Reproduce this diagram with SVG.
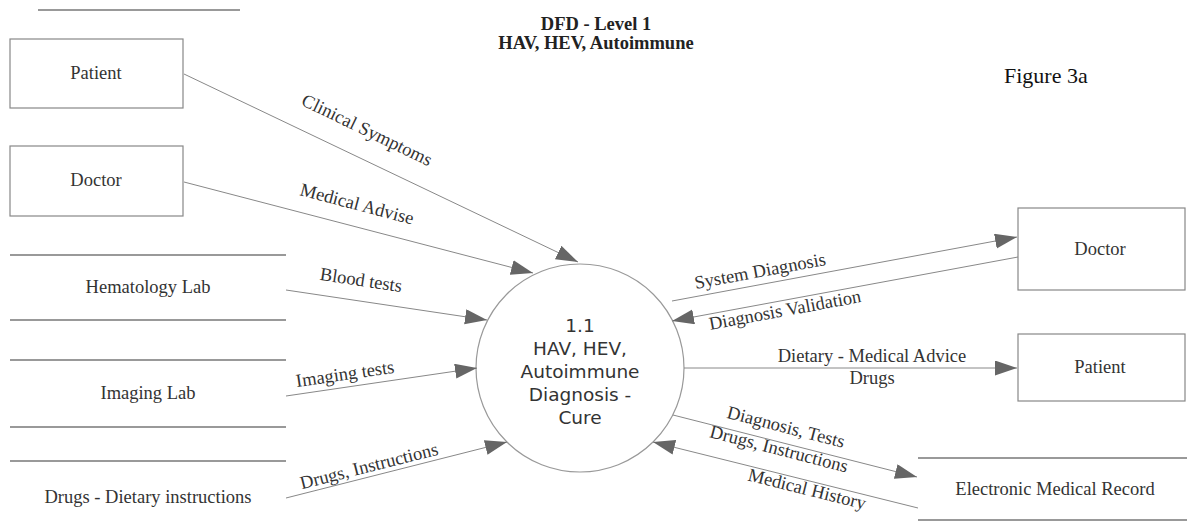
<svg xmlns="http://www.w3.org/2000/svg" width="1187" height="530" viewBox="0 0 1187 530">
<style>
.box{fill:#fff;stroke:#888;stroke-width:1.2}
.store{stroke:#777;stroke-width:1.5}
.lbl{font-family:"Liberation Serif",serif;font-size:18.5px;fill:#333;text-anchor:middle;dominant-baseline:central}
.flow{font-family:"Liberation Serif",serif;font-size:18.5px;fill:#333;text-anchor:middle;dominant-baseline:central}
.conn line{stroke:#888;stroke-width:1;marker-end:url(#ah)}
.title{font-family:"Liberation Serif",serif;font-size:18.5px;font-weight:bold;fill:#222;text-anchor:middle}
.proc{font-family:"DejaVu Sans",sans-serif;font-size:18.5px;fill:#333;text-anchor:middle}
</style>
<defs>
<marker id="ah" markerUnits="userSpaceOnUse" markerWidth="24" markerHeight="16" refX="22" refY="7.5" orient="auto">
<path d="M0,0 L22,7.5 L0,15 z" fill="#666"/>
</marker>
</defs>
<rect width="1187" height="530" fill="#fff"/>
<line x1="38" y1="10" x2="240" y2="10" class="store"/>
<text class="title" x="596" y="30">DFD - Level 1</text>
<text class="title" x="596" y="49">HAV, HEV, Autoimmune</text>
<text x="1004" y="83" style="font-family:'Liberation Serif',serif;font-size:22px;fill:#111">Figure 3a</text>

<g id="patient-left"><rect class="box" x="10" y="39" width="173" height="69"/><text class="lbl" x="96" y="73">Patient</text></g>
<g id="doctor-left"><rect class="box" x="10" y="146" width="173" height="70"/><text class="lbl" x="96" y="180">Doctor</text></g>
<g id="hematology"><line class="store" x1="10" y1="255" x2="286" y2="255"/><line class="store" x1="10" y1="320" x2="286" y2="320"/><text class="lbl" x="148" y="287">Hematology Lab</text></g>
<g id="imaging"><line class="store" x1="10" y1="360" x2="286" y2="360"/><line class="store" x1="10" y1="427" x2="286" y2="427"/><text class="lbl" x="148" y="393">Imaging Lab</text></g>
<g id="drugs-store"><line class="store" x1="10" y1="461" x2="286" y2="461"/><text class="lbl" x="148" y="497">Drugs - Dietary instructions</text></g>
<g id="process"><circle cx="580" cy="368" r="104" fill="#fff" stroke="#999" stroke-width="1.2"/>
<text class="proc" x="580" y="332">1.1</text>
<text class="proc" x="580" y="355">HAV, HEV,</text>
<text class="proc" x="580" y="378">Autoimmune</text>
<text class="proc" x="580" y="401">Diagnosis -</text>
<text class="proc" x="580" y="424">Cure</text></g>
<g id="doctor-right"><rect class="box" x="1018" y="208" width="167" height="82"/><text class="lbl" x="1100" y="249">Doctor</text></g>
<g id="patient-right"><rect class="box" x="1018" y="334" width="167" height="67"/><text class="lbl" x="1100" y="367">Patient</text></g>
<g id="emr"><line class="store" x1="918" y1="458" x2="1187" y2="458"/><line class="store" x1="918" y1="520" x2="1187" y2="520"/><text class="lbl" x="1055" y="489">Electronic Medical Record</text></g>

<g id="connectors" class="conn">
<line x1="184" y1="74" x2="578" y2="262"/>
<line x1="184" y1="182" x2="533" y2="273"/>
<line x1="286" y1="290" x2="487" y2="320"/>
<line x1="286" y1="396" x2="477" y2="368"/>
<line x1="286" y1="498" x2="507" y2="442"/>
<line x1="672" y1="301" x2="1017" y2="237"/>
<line x1="1018" y1="257" x2="672" y2="321"/>
<line x1="684" y1="368" x2="1017" y2="368"/>
<line x1="673" y1="415" x2="917" y2="477"/>
<line x1="918" y1="508" x2="653" y2="442"/>
</g>
<g id="labels">
<text class="flow" transform="translate(367,130) rotate(25.7)">Clinical Symptoms</text>
<text class="flow" transform="translate(357,204) rotate(14.7)">Medical Advise</text>
<text class="flow" transform="translate(361,280) rotate(8.5)">Blood tests</text>
<text class="flow" transform="translate(345,374) rotate(-8.3)">Imaging tests</text>
<text class="flow" transform="translate(369,466) rotate(-14.2)">Drugs, Instructions</text>
<text class="flow" transform="translate(760,271) rotate(-10.4)">System Diagnosis</text>
<text class="flow" transform="translate(785,310) rotate(-10.5)">Diagnosis Validation</text>
<text class="flow" x="872" y="356">Dietary - Medical Advice</text>
<text class="flow" x="872" y="378">Drugs</text>
<text class="flow" transform="translate(786,427) rotate(14.5)">Diagnosis, Tests</text>
<text class="flow" transform="translate(779,449) rotate(14.5)">Drugs, Instructions</text>
<text class="flow" transform="translate(807,489) rotate(14)">Medical History</text>
</g>
</svg>
